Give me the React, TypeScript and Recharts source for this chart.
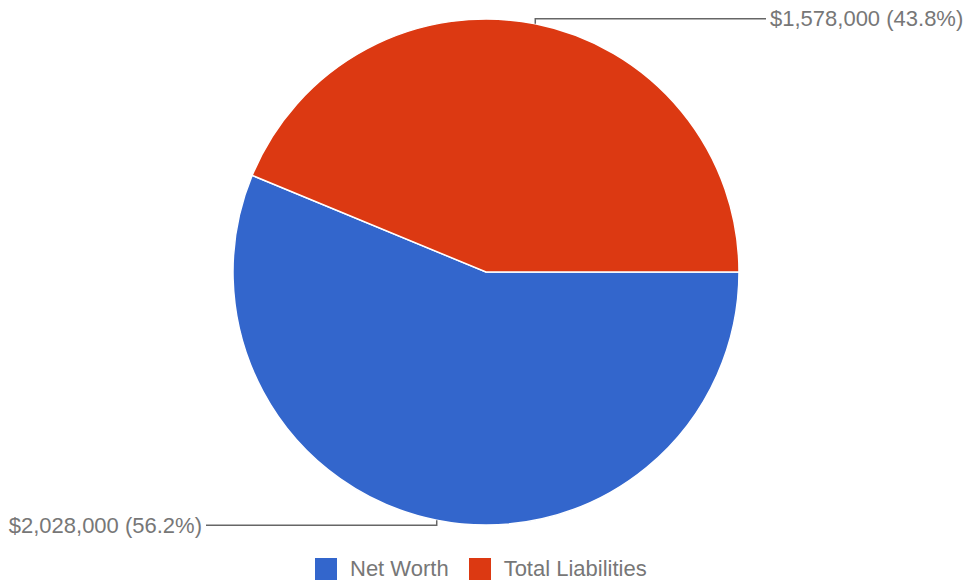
import { PieChart, Pie, Cell, Legend } from "recharts";

const names = ["Net Worth", "Total Liabilities"];
const values = [2028000, 1578000];
const colors = ["#3366CC", "#DC3912"];

const data = names.map((name, i) => ({ name, value: values[i] }));

const RAD = Math.PI / 180;

const fmt = (v: number) => "$" + v.toLocaleString("en-US");

const renderLabel = (props: any) => {
    const { cx, cy, midAngle, outerRadius, value, percent } = props;
    const cos = Math.cos(-midAngle * RAD);
    const sin = Math.sin(-midAngle * RAD);
    const sx = cx + outerRadius * cos;
    const sy = cy + outerRadius * sin;
    const down = sin > 0 ? 1 : -1;
    const side = cos >= 0 ? 1 : -1;
    const ey = sy + down * 5;
    const ex = cx + side * (outerRadius + 27);
    const tx = cx + side * (outerRadius + 31);
    return (
        <g>
            <polyline
                points={`${sx},${sy} ${sx},${ey} ${ex},${ey}`}
                fill="none"
                stroke="#666"
                strokeWidth={1.5}
            />
            <text
                x={tx}
                y={ey}
                textAnchor={side > 0 ? "start" : "end"}
                dominantBaseline="central"
                fill="#777"
                fontSize={22}
                fontFamily="'Liberation Sans', Arial, sans-serif"
            >
                {`${fmt(value)} (${(percent * 100).toFixed(1)}%)`}
            </text>
        </g>
    );
};

const renderLegend = (props: any) => {
    const { payload } = props;
    return (
        <div style={{ display: "flex", marginLeft: 315, fontFamily: "'Liberation Sans', Arial, sans-serif", fontSize: 22, color: "#777" }}>
            {payload.map((entry: any, i: number) => (
                <div key={i} style={{ display: "flex", alignItems: "center", marginRight: 20 }}>
                    <span style={{ display: "inline-block", width: 22, height: 22, background: entry.color, marginRight: 13 }} />
                    <span>{entry.value}</span>
                </div>
            ))}
        </div>
    );
};

export default function App() {
    return (
        <div style={{ position: "absolute", left: 0, top: 0, background: "#fff" }}>
            <PieChart width={968} height={586} margin={{ top: 0, right: 0, bottom: 0, left: 0 }}>
                <Pie
                    data={data}
                    dataKey="value"
                    nameKey="name"
                    cx={486}
                    cy={272}
                    outerRadius={253}
                    startAngle={0}
                    endAngle={-360}
                    stroke="#fff"
                    strokeWidth={1.5}
                    label={renderLabel}
                    labelLine={false}
                    isAnimationActive={false}
                >
                    {data.map((d, i) => (
                        <Cell key={d.name} fill={colors[i]} />
                    ))}
                </Pie>
                <Legend
                    content={renderLegend}
                    wrapperStyle={{ position: "absolute", top: 556, left: 0, width: 968 }}
                />
            </PieChart>
        </div>
    );
}
